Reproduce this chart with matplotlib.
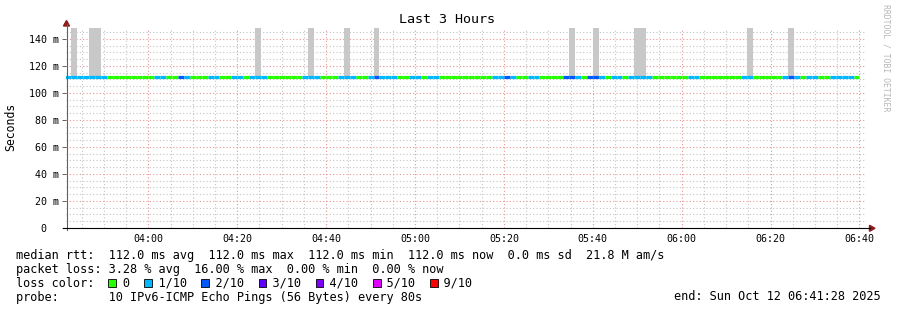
import matplotlib
matplotlib.use("Agg")
import matplotlib.pyplot as plt
import numpy as np
from matplotlib.patches import Rectangle, Polygon
from matplotlib.lines import Line2D

W, H = 897, 310

# ---- data ----
STEP_S = 80                    # probe step, seconds
FIRST_STEP_S = 13280           # 03:41:20, seconds of day
VIEW_START_S = 13288           # 03:41:28
VIEW_END_S = 24088             # 06:41:28
MEDIAN_MS = 112.0
# loss colour index per 80 s step (0 -> 0/10, 1 -> 1/10, 2 -> 2/10)
LOSS_CODES = [1, 1, 1, 1, 1, 1, 1, 0, 0, 0, 0, 0, 0, 0, 0, 1,
              1, 0, 0, 2, 1, 0, 0, 0, 1, 1, 0, 0, 1, 1, 0, 1,
              1, 1, 0, 0, 0, 0, 0, 0, 1, 1, 1, 0, 0, 0, 1, 1,
              1, 0, 0, 1, 2, 1, 1, 1, 0, 0, 1, 1, 0, 1, 1, 0,
              0, 0, 0, 0, 0, 0, 0, 0, 1, 1, 2, 1, 0, 0, 1, 1,
              0, 0, 0, 0, 2, 2, 1, 0, 2, 2, 1, 0, 1, 1, 0, 1,
              1, 1, 1, 0, 0, 0, 0, 0, 0, 1, 1, 0, 0, 0, 0, 0,
              0, 0, 1, 1, 0, 0, 0, 0, 0, 1, 2, 1, 0, 1, 1, 0,
              0, 1, 1, 1, 1, 0]
SMOKE_STEPS = [1, 4, 5, 32, 41, 47, 52, 85, 89, 96, 97, 115, 122]
SMOKE_TOP_MS = 148.0

Y_TICKS = [0, 20, 40, 60, 80, 100, 120, 140]
Y_LABELS = ["0  ", "20 m", "40 m", "60 m", "80 m", "100 m", "120 m", "140 m"]
X_TICK_LABELS = ["04:00", "04:20", "04:40", "05:00", "05:20", "05:40",
                 "06:00", "06:20", "06:40"]

LOSS_LABELS = ["0", "1/10", "2/10", "3/10", "4/10", "5/10", "9/10"]
LOSS_COLORS = ["#26ff00", "#00b8ff", "#0059ff", "#5e00ff", "#7e00ff",
               "#dd00ff", "#ff0000"]

LINE1 = ("median rtt:  112.0 ms avg  112.0 ms max  112.0 ms min  "
         "112.0 ms now  0.0 ms sd  21.8 M am/s")
LINE2 = "packet loss: 3.28 % avg  16.00 % max  0.00 % min  0.00 % now"
LINE4 = "probe:       10 IPv6-ICMP Echo Pings (56 Bytes) every 80s"
END_TXT = "end: Sun Oct 12 06:41:28 2025"

MONO = "DejaVu Sans Mono"
FS = 8.55
CW = 0.602 * FS * 100 / 72      # monospace advance in px


def fx(x):
    return x / W


def fy(y):
    return 1 - y / H


fig = plt.figure(figsize=(W / 100, H / 100), dpi=100)
ax = fig.add_axes([fx(66), fy(228), 800 / W, 200 / H])

t_left = (FIRST_STEP_S + STEP_S * np.arange(len(LOSS_CODES))) / 60.0
step_min = STEP_S / 60.0

# smoke
ax.bar(t_left[SMOKE_STEPS], SMOKE_TOP_MS - MEDIAN_MS, bottom=MEDIAN_MS,
       width=step_min, align="edge", color="#c8c8c8", linewidth=0, zorder=2)
# median coloured by loss
lc = ax.hlines(np.full(len(t_left), MEDIAN_MS), t_left, t_left + step_min,
               colors=[LOSS_COLORS[c] for c in LOSS_CODES], linewidth=2.3,
               zorder=3)
lc.set_capstyle("butt")

ax.set_xlim(VIEW_START_S / 60.0, VIEW_END_S / 60.0)
ax.set_ylim(0, 148)

major_x = np.arange(240, 401, 20)
minor_x = np.arange(225, 401, 5)
ax.set_xticks(major_x)
ax.set_xticklabels(X_TICK_LABELS)
ax.set_xticks(minor_x, minor=True)
ax.set_yticks(Y_TICKS)
ax.set_yticklabels(Y_LABELS)
ax.set_yticks(np.arange(5, 148, 5), minor=True)

ax.grid(which="major", color="#e89494", linestyle=(0, (1, 2)), linewidth=0.8)
ax.grid(which="minor", color="#c4c4c4", linestyle=(0, (1, 2)), linewidth=0.8)
ax.set_axisbelow(True)
for s in ax.spines.values():
    s.set_visible(False)
ax.tick_params(axis="x", which="both", length=0, pad=4.2,
               labelsize=7.2, labelfontfamily=MONO, colors="#000000")
ax.tick_params(axis="y", which="major", length=3.2, width=0.7, color="#606060",
               pad=2.2, labelsize=7.2, labelfontfamily=MONO)
ax.tick_params(axis="y", which="minor", length=0)
ax.set_facecolor("white")

# axes lines and arrows
fig.add_artist(Line2D([fx(66.5), fx(66.5)], [fy(230), fy(24)],
                      color="#606060", lw=0.8))
fig.add_artist(Line2D([fx(63), fx(870)], [fy(228.3), fy(228.3)],
                      color="#000000", lw=0.8))
arrow_c = "#8a1c1c"
fig.add_artist(Polygon([(fx(66.5), fy(20.5)), (fx(63.5), fy(26)),
                        (fx(69.5), fy(26))], closed=True, color=arrow_c))
fig.add_artist(Polygon([(fx(875), fy(228.3)), (fx(869.5), fy(225.3)),
                        (fx(869.5), fy(231.3))], closed=True, color=arrow_c))

# title, y label, watermark
fig.text(fx(447), fy(19.5), "Last 3 Hours", family=MONO, fontsize=9.6,
         ha="center", va="center")
fig.text(fx(11), fy(127), "Seconds", family=MONO, fontsize=8.3,
         rotation=90, ha="center", va="center")
fig.text(fx(886), fy(4), "RRDTOOL / TOBI OETIKER", family=MONO, fontsize=5.9,
         rotation=270, ha="center", va="top", color="#b8b8b8")

# legend block
x0 = 16
fig.text(fx(x0), fy(258.5), LINE1, family=MONO, fontsize=FS, va="baseline")
fig.text(fx(x0), fy(272.5), LINE2, family=MONO, fontsize=FS, va="baseline")
col = 13
line3 = "loss color:  "
for lab in LOSS_LABELS:
    line3 += "  " + lab + "  "
fig.text(fx(x0), fy(286.5), line3.rstrip(), family=MONO, fontsize=FS,
         va="baseline")
for lab, c in zip(LOSS_LABELS, LOSS_COLORS):
    bx = x0 + CW * col - 0.5
    fig.add_artist(Rectangle((fx(bx), fy(286.8)), 7.6 / W, 7.6 / H,
                             facecolor=c, edgecolor="#000000", lw=0.6))
    col += len(lab) + 4
fig.text(fx(x0), fy(300.5), LINE4, family=MONO, fontsize=FS, va="baseline")
fig.text(fx(881), fy(300.5), END_TXT, family=MONO, fontsize=FS,
         ha="right", va="baseline")

fig.savefig("out.png", dpi=100)
